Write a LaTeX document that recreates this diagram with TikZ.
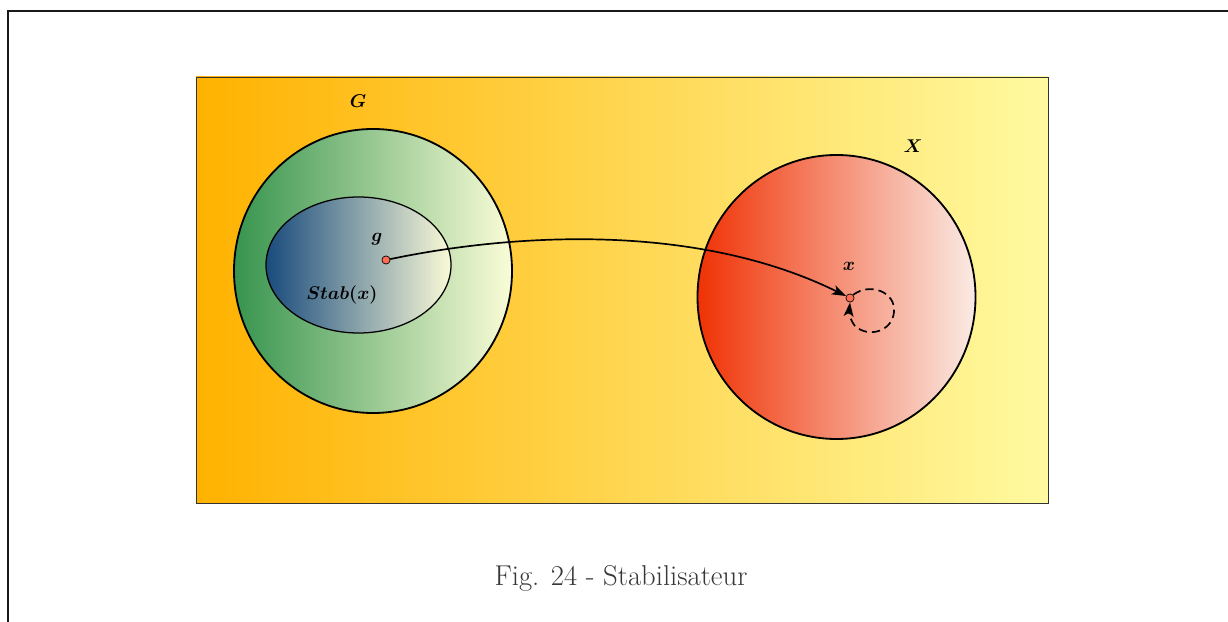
\documentclass[tikz,border=0pt]{standalone}
\usepackage{amsmath}
\usetikzlibrary{arrows.meta,shadings}
\newcommand{\mylb}[1]{\scalebox{1.095}{$\boldsymbol{#1}$}}
\begin{document}
\begin{tikzpicture}[x=0.025cm,y=-0.025cm,
  lbl/.style={font=\fontsize{12}{14}\selectfont},
  dotn/.style={circle,draw=black,fill={rgb,255:red,255;green,110;blue,85},inner sep=0pt,minimum size=5.8pt,line width=0.5pt},
  bigc/.style={draw=black,line width=1.3pt},
  arr/.style={line width=1.2pt,-{Stealth[length=10pt,width=7pt,inset=2.5pt]}}]
\useasboundingbox (0,0) rectangle (1228,622);
\fill[white] (0,0) rectangle (1228,622);
% frame
\draw[line width=1.5pt,black!90] (8,640) -- (8,11) -- (1240,11);
% background rectangle
\shade[left color={rgb,255:red,255;green,178;blue,0}, right color={rgb,255:red,255;green,250;blue,160}] (196,77) rectangle (1048,503);
\draw[line width=0.6pt,black!80] (196,77) rectangle (1048,503);
% G circle
\shade[left color={rgb,255:red,55;green,148;blue,78}, right color={rgb,255:red,250;green,253;blue,215}] (373,271) ellipse [x radius=139, y radius=142];
\draw[bigc] (373,271) ellipse [x radius=139, y radius=142];
% Stab ellipse
\shade[left color={rgb,255:red,25;green,75;blue,125}, right color={rgb,255:red,250;green,250;blue,215}] (358.5,265) ellipse [x radius=92.5, y radius=68];
\draw[line width=0.9pt] (358.5,265) ellipse [x radius=92.5, y radius=68];
% X circle
\shade[left color={rgb,255:red,240;green,50;blue,5}, right color={rgb,255:red,250;green,235;blue,228}] (836.5,297) ellipse [x radius=139, y radius=142];
\draw[bigc] (836.5,297) ellipse [x radius=139, y radius=142];
% labels
\node[lbl] (lG) at (358,101) {\mylb{G}};
\node[lbl] (lX) at (913,146) {\mylb{X}};
\node[lbl] (lg) at (377,239) {\mylb{g}};
\node[lbl] (lx) at (849,266) {\mylb{x}};
\node[lbl] (lS) at (342,295) {\mylb{Stab(x)}};
% points
\node[dotn] (pg) at (386,260) {};
\node[dotn] (px) at (850,298) {};
% arrow
\draw[arr] (pg) .. controls (520,232) and (700,224) .. (px);
% loop
\draw[arr,dashed,dash pattern=on 6pt off 3.5pt] (px.north east) .. controls (870,282) and (896,292) .. (894,312)
  .. controls (892,332) and (868,338) .. (855,326) .. controls (850,320) and (849,312) .. (px.south);
% caption
\node[font=\fontsize{20.4}{24}\selectfont,text=black!78] (cap) at (621,578) {Fig. 24 - Stabilisateur};
\end{tikzpicture}
\end{document}
